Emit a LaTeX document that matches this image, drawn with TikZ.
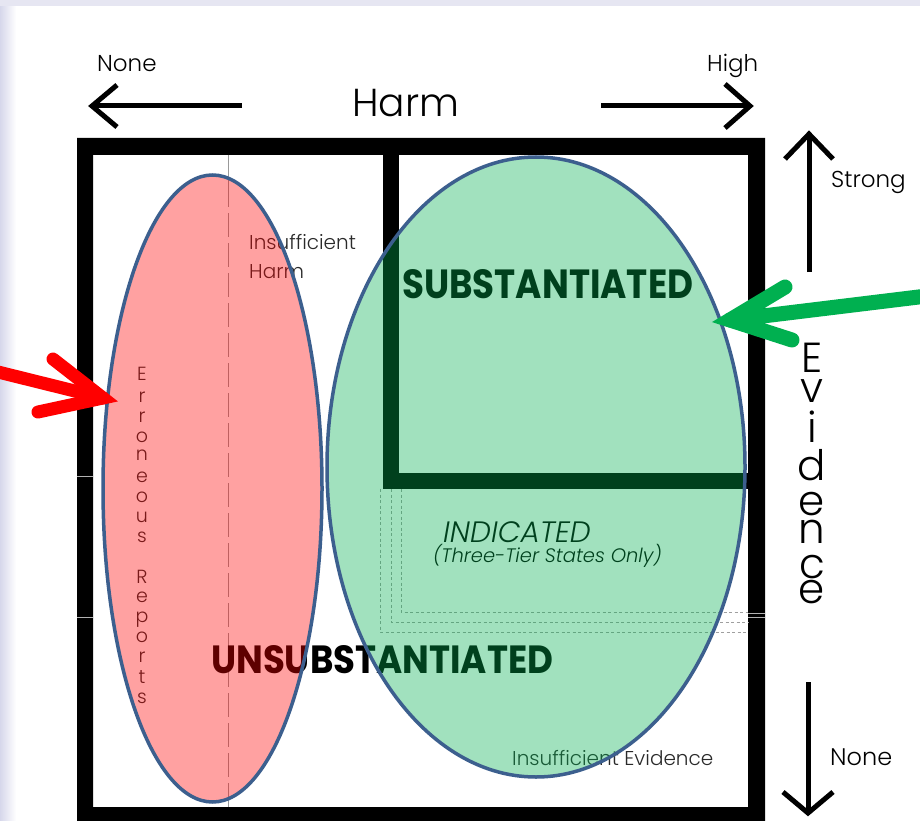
\documentclass[tikz,border=0pt]{standalone}
\usepackage{fontspec}
\setmainfont{Poppins}
\newfontfamily\plight{Poppins Light}
\usetikzlibrary{calc}
\definecolor{lav}{HTML}{D6D7EB}
\definecolor{lavtop}{HTML}{E6E6F2}
\definecolor{ellred}{HTML}{FF0000}
\definecolor{ellgreen}{HTML}{00B050}
\definecolor{ellline}{HTML}{3C5F8E}
\definecolor{txtgray}{HTML}{2A2A2A}
\definecolor{ptrred}{HTML}{FF0000}
\definecolor{ptrgreen}{HTML}{00B050}
\begin{document}
\begin{tikzpicture}[x=1pt,y=-1pt,
  framefill/.style={fill=black},
  axisline/.style={line width=5pt,line cap=butt,line join=miter,black},
  ptrline/.style={line width=13pt,line cap=round,line join=miter},
  ellstroke/.style={draw=ellline,line width=3.5pt},
  thindash/.style={draw=gray!75,line width=0.8pt,dash pattern=on 3pt off 2.5pt},
  axislabel/.style={inner sep=0pt,anchor=base west,font=\plight\fontsize{23}{23}\selectfont,text=black},
  evl/.style={inner sep=0pt,anchor=base,font=\plight\fontsize{42}{42}\selectfont,text=black},
  erl/.style={inner sep=0pt,anchor=base,font=\plight\fontsize{19}{19}\selectfont,text=txtgray},
  smalltxt/.style={inner sep=0pt,anchor=base west,font=\plight\fontsize{20}{20}\selectfont,text=txtgray},
  bigbold/.style={inner sep=0pt,anchor=base west,font=\bfseries,text=black}
]
\useasboundingbox (0,0) rectangle (920,821);
\fill[white] (0,0) rectangle (920,821);
\shade[left color=lav,right color=white] (0,0) rectangle (16,821);
\fill[lavtop] (0,0) rectangle (920,6);

% ---- frame and dividers
\fill[framefill,even odd rule] (77,138) rectangle (765,835) (93,155) rectangle (748,807);
\fill[framefill] (383,155) rectangle (399,489);
\fill[framefill] (383,473) rectangle (748,489);
\draw[gray!60,line width=0.7pt] (77,476) -- (93,476) (77,617) -- (93,617);
\draw[gray!60,line width=0.7pt] (748,613) -- (765,613) (748,617) -- (765,617);

% thin vertical guide
\draw[gray!80,line width=0.9pt] (228,155) -- (228,183);
\draw[gray!80,line width=0.9pt,dash pattern=on 24pt off 6pt] (228,183) -- (228,807);

% nested dashed L lines (Indicated region)
\foreach \xx/\yy in {380/632,391/622,401/612}{
  \draw[thindash] (\xx,489) -- (\xx,\yy) -- (748,\yy);
}

% ---- texts inside the box
\node[smalltxt] (insh1) at (249,249) {Insufficient};
\node[smalltxt] (insh2) at (249,278) {Harm};
\node[bigbold] (subst) at (402,298) {\resizebox{291pt}{29pt}{SUBSTANTIATED}};
\node[inner sep=0pt,anchor=base west,font=\plight\itshape\fontsize{29.5}{29.5}\selectfont,text=black] (indic) at (443,542) {INDICATED};
\node[inner sep=0pt,anchor=base west,font=\plight\itshape\fontsize{19.5}{19.5}\selectfont,text=black] (three) at (433,562) {(Three-Tier States Only)};
\node[bigbold] (unsub) at (211,673) {\resizebox{342pt}{28pt}{UNSUBSTANTIATED}};
\node[smalltxt] (inse) at (512,765) {Insufficient Evidence};
\foreach \ch/\yb [count=\i] in {E/380,r/402,r/422,o/442,n/460,e/482,o/502,u/522,s/542,R/583,e/602,p/622,o/642,r/662,t/683,s/703}{
  \node[erl] (er\i) at (142,\yb) {\ch};
}

% ---- ellipses (translucent fills, opaque outlines)
\fill[ellred,opacity=0.37] (212.5,488.5) ellipse [x radius=109.5,y radius=313.5];
\draw[ellstroke] (212.5,488.5) ellipse [x radius=109.5,y radius=313.5];
\fill[ellgreen,opacity=0.37] (536,467) ellipse [x radius=209,y radius=310];
\draw[ellstroke] (536,467) ellipse [x radius=209,y radius=310];

% ---- axis labels and arrows
\node[axislabel] (none1) at (97,72) {None};
\node[inner sep=0pt,anchor=base west,font=\plight\fontsize{39}{39}\selectfont] (harm) at (352,117) {Harm};
\node[axislabel] (high) at (707,72) {High};
\node[axislabel] (strong) at (831,188) {Strong};
\node[axislabel,font=\plight\fontsize{24}{24}\selectfont] (none2) at (830,765) {None};
\foreach \ch/\yb [count=\i] in {E/372,v/402,i/442,d/480,e/515,n/543,c/578,e/603}{
  \node[evl] (ev\i) at (812,\yb) {\ch};
}

\coordinate (lefttail) at (242,106);
\coordinate (lefttip) at (92,106);
\draw[axisline] (lefttail) -- (lefttip);
\draw[axisline] ($(lefttip)+(25,-21)$) -- (lefttip) -- ($(lefttip)+(25,21)$);

\coordinate (righttail) at (601,106);
\coordinate (righttip) at (750,106);
\draw[axisline] (righttail) -- (righttip);
\draw[axisline] ($(righttip)+(-25,-22)$) -- (righttip) -- ($(righttip)+(-25,22)$);

\coordinate (uptail) at (809,272);
\coordinate (uptip) at (809,134);
\draw[axisline] (uptail) -- (uptip);
\draw[axisline] ($(uptip)+(-24,25)$) -- (uptip) -- ($(uptip)+(24,25)$);

\coordinate (dntail) at (808,682);
\coordinate (dntip) at (808,813);
\draw[axisline] (dntail) -- (dntip);
\draw[axisline] ($(dntip)+(-25,-21)$) -- (dntip) -- ($(dntip)+(25,-21)$);

% ---- pointer arrows
\coordinate (rtail) at (-10,370);
\coordinate (rtip) at (103,398);
\coordinate (rb1) at (53,359);
\coordinate (rb2) at (38,412);
\draw[ptrline,ptrred] (rtail) -- (rtip);
\draw[ptrline,ptrred] (rb1) -- (rtip) -- (rb2);

\coordinate (gtail) at (935,295);
\coordinate (gtip) at (730,320);
\coordinate (gb1) at (785,287);
\coordinate (gb2) at (792,340);
\draw[ptrline,ptrgreen,line width=15pt] (gtail) -- (gtip);
\draw[ptrline,ptrgreen,line width=15pt] (gb1) -- (gtip) -- (gb2);
\end{tikzpicture}
\end{document}
